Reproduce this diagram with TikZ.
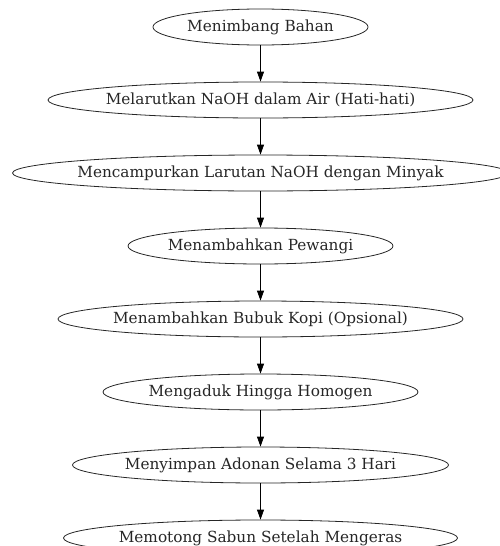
\documentclass[tikz,border=0pt]{standalone}
\usepackage{fontspec}
\setmainfont{DejaVu Serif}
\usetikzlibrary{shapes.geometric,arrows.meta}
\tikzset{
  stepbox/.style={ellipse, draw=black!85, line width=0.8pt, inner sep=0pt,
    minimum height=36pt, font=\fontsize{15.3pt}{17pt}\selectfont, text=black!85},
  flow/.style={-{Triangle[length=10pt,width=7pt]}, line width=0.8pt, black}
}
\newcommand{\zb}[1]{\makebox[0pt]{#1}}
\begin{document}
\begin{tikzpicture}[x=1pt,y=-1pt]
\useasboundingbox (0,0) rectangle (499,546);
\node[stepbox, minimum width=215pt] (n1) at (260.5,27) {\zb{Menimbang Bahan}};
\node[stepbox, minimum width=425pt] (n2) at (260.5,100) {\zb{Melarutkan NaOH dalam Air (Hati-hati)}};
\node[stepbox, minimum width=496pt] (n3) at (260.5,173) {\zb{Mencampurkan Larutan NaOH dengan Minyak}};
\node[stepbox, minimum width=265pt] (n4) at (260.5,246) {\zb{Menambahkan Pewangi}};
\node[stepbox, minimum width=405pt] (n5) at (260.5,319) {\zb{Menambahkan Bubuk Kopi (Opsional)}};
\node[stepbox, minimum width=315pt] (n6) at (260.5,392) {\zb{Mengaduk Hingga Homogen}};
\node[stepbox, minimum width=376pt] (n7) at (260.5,465) {\zb{Menyimpan Adonan Selama 3 Hari}};
\node[stepbox, minimum width=394pt] (n8) at (260.5,538) {\zb{Memotong Sabun Setelah Mengeras}};
\foreach \a/\b in {n1/n2,n2/n3,n3/n4,n4/n5,n5/n6,n6/n7,n7/n8}
  \draw[flow] (\a.south) -- (\b.north);
\end{tikzpicture}
\end{document}
